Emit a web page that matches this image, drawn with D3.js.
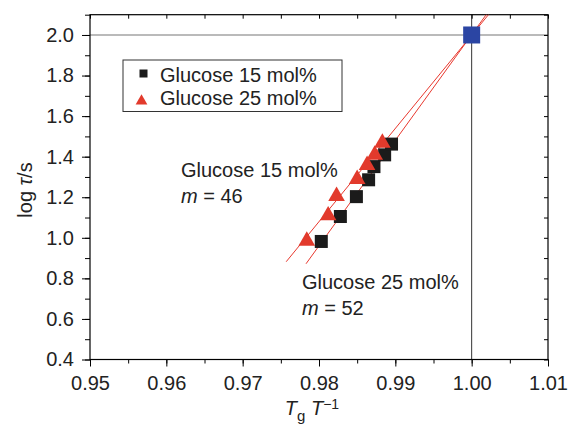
<!DOCTYPE html>
<html>
<head>
<meta charset="utf-8">
<script src="https://cdn.jsdelivr.net/npm/d3@7"></script>
<style>
  body { margin: 0; background: #fff; }
  svg { font-family: "Liberation Sans", Arial, Helvetica, sans-serif; }
  .axis text { font-size: 20px; fill: #222; }
  .axis path { display: none; }
  .axis line { stroke: #000; }
</style>
</head>
<body>
<div id="chart"></div>
<script>
var svgWidth = 568;
var svgHeight = 429;

var margin = { top: 14.7, right: 20, bottom: 69.5, left: 90 };
var width = svgWidth - margin.left - margin.right;
var height = svgHeight - margin.top - margin.bottom;

// data
var xTicks = [0.95, 0.96, 0.97, 0.98, 0.99, 1.00, 1.01];
var yTicks = [0.4, 0.6, 0.8, 1.0, 1.2, 1.4, 1.6, 1.8, 2.0];

var glu15X = [0.9803, 0.9828, 0.9849, 0.9865, 0.9872, 0.9886, 0.9895];
var glu15Y = [0.982, 1.105, 1.203, 1.286, 1.351, 1.409, 1.462];

var glu25X = [0.9784, 0.9812, 0.9823, 0.9850, 0.9863, 0.9873, 0.9883];
var glu25Y = [0.985, 1.110, 1.205, 1.289, 1.358, 1.409, 1.468];

// fit lines (endpoints), both through Tg point
var fit46X = [0.9757, 1.0022];
var fit46Y = [0.882, 2.1];
var fit52X = [0.9783, 1.0019];
var fit52Y = [0.872, 2.1];

var tgPoint = [1.00, 2.00];

var svg = d3.select("#chart")
  .append("svg")
  .attr("width", svgWidth)
  .attr("height", svgHeight);

var chartGroup = svg.append("g")
  .attr("transform", `translate(${margin.left}, ${margin.top})`);

var xLinear = d3.scaleLinear().domain([0.95, 1.01]).range([0, width]);
var yLinear = d3.scaleLinear().domain([0.4, 2.1]).range([height, 0]);

var minorX = d3.range(0, 13).map(i => 0.95 + i * 0.005);
var minorY = d3.range(0, 18).map(i => 0.4 + i * 0.1);

// reference lines
chartGroup.append("line")
  .attr("x1", 0).attr("x2", width)
  .attr("y1", yLinear(tgPoint[1])).attr("y2", yLinear(tgPoint[1]))
  .attr("stroke", "#777").attr("stroke-width", 1.2);

chartGroup.append("line")
  .attr("x1", xLinear(tgPoint[0])).attr("x2", xLinear(tgPoint[0]))
  .attr("y1", 0).attr("y2", height)
  .attr("stroke", "#333").attr("stroke-width", 1);

// minor ticks
chartGroup.append("g").attr("class", "axis")
  .attr("transform", `translate(0, ${height})`)
  .call(d3.axisBottom(xLinear).tickValues(minorX).tickSize(4).tickFormat(""));
chartGroup.append("g").attr("class", "axis")
  .call(d3.axisLeft(yLinear).tickValues(minorY).tickSize(5).tickFormat(""));
chartGroup.append("g").attr("class", "axis")
  .call(d3.axisTop(xLinear).tickValues(minorX).tickSize(-4).tickFormat(""));
chartGroup.append("g").attr("class", "axis")
  .attr("transform", `translate(${width}, 0)`)
  .call(d3.axisRight(yLinear).tickValues(minorY).tickSize(-4).tickFormat(""));

// major axes
chartGroup.append("g").attr("class", "axis xAxis")
  .attr("transform", `translate(0, ${height})`)
  .call(d3.axisBottom(xLinear).tickValues(xTicks).tickSize(7).tickPadding(9)
    .tickFormat(d3.format(".2f")));

chartGroup.append("g").attr("class", "axis yAxis")
  .call(d3.axisLeft(yLinear).tickValues(yTicks).tickSize(8).tickPadding(8)
    .tickFormat(d3.format(".1f")));

// frame
chartGroup.append("rect")
  .attr("width", width).attr("height", height)
  .attr("fill", "none").attr("stroke", "#000").attr("stroke-width", 1.2);

// fit lines
var line = d3.line().x(d => xLinear(d[0])).y(d => yLinear(d[1]));
[[fit46X, fit46Y], [fit52X, fit52Y]].forEach(function(f) {
  chartGroup.append("path")
    .datum(d3.zip(f[0], f[1]))
    .attr("d", line)
    .attr("fill", "none")
    .attr("stroke", "#e8382e")
    .attr("stroke-width", 1);
});

// squares
var sq = 13;
chartGroup.selectAll(".sq")
  .data(d3.zip(glu15X, glu15Y))
  .enter()
  .append("rect")
  .attr("class", "sq")
  .attr("x", d => xLinear(d[0]) - sq / 2)
  .attr("y", d => yLinear(d[1]) - sq / 2)
  .attr("width", sq).attr("height", sq)
  .attr("fill", "#1b1b1b");

// triangles
var tri = d3.symbol().type(d3.symbolTriangle).size(120);
chartGroup.selectAll(".tri")
  .data(d3.zip(glu25X, glu25Y))
  .enter()
  .append("path")
  .attr("class", "tri")
  .attr("d", tri)
  .attr("transform", d => `translate(${xLinear(d[0])}, ${yLinear(d[1])})`)
  .attr("fill", "#e23a2c");

// Tg point
chartGroup.append("rect")
  .attr("x", xLinear(tgPoint[0]) - 8.5)
  .attr("y", yLinear(tgPoint[1]) - 8.5)
  .attr("width", 17).attr("height", 17)
  .attr("fill", "#2b45a3");

// legend
var legend = svg.append("g");
legend.append("rect")
  .attr("x", 123).attr("y", 60).attr("width", 219).attr("height", 51.5)
  .attr("fill", "#fff").attr("stroke", "#333").attr("stroke-width", 1);
legend.append("rect")
  .attr("x", 139.5).attr("y", 69.5).attr("width", 8).attr("height", 8)
  .attr("fill", "#1b1b1b");
legend.append("path")
  .attr("d", d3.symbol().type(d3.symbolTriangle).size(60))
  .attr("transform", "translate(141.5, 101)")
  .attr("fill", "#e23a2c");
legend.append("text").attr("x", 160).attr("y", 82)
  .style("font-size", "20px").attr("fill", "#222").text("Glucose 15 mol%");
legend.append("text").attr("x", 160).attr("y", 105)
  .style("font-size", "20px").attr("fill", "#222").text("Glucose 25 mol%");

// annotations
function annot(x, y, name, m) {
  svg.append("text").attr("x", x).attr("y", y)
    .style("font-size", "20px").attr("fill", "#222").text(name);
  var t = svg.append("text").attr("x", x).attr("y", y + 26)
    .style("font-size", "20px").attr("fill", "#222");
  t.append("tspan").style("font-style", "italic").text("m");
  t.append("tspan").text(" = " + m);
}
annot(181, 177, "Glucose 15 mol%", 46);
annot(302, 289, "Glucose 25 mol%", 52);

// axis titles
var xt = svg.append("text")
  .attr("x", 312).attr("y", 415)
  .attr("text-anchor", "middle")
  .style("font-size", "20px").attr("fill", "#222");
xt.append("tspan").style("font-style", "italic").text("T");
xt.append("tspan").attr("dy", 6).style("font-size", "15px").text("g");
xt.append("tspan").attr("dy", -6).text(" ");
xt.append("tspan").style("font-style", "italic").text("T");
xt.append("tspan").attr("dy", -6).style("font-size", "14px").text("\u22121");

var yt = svg.append("text")
  .attr("transform", "translate(32, 190) rotate(-90)")
  .attr("text-anchor", "middle")
  .style("font-size", "20px").attr("fill", "#222");
yt.append("tspan").text("log ");
yt.append("tspan").style("font-style", "italic").text("\u03c4");
yt.append("tspan").text("/s");
</script>
</body>
</html>
